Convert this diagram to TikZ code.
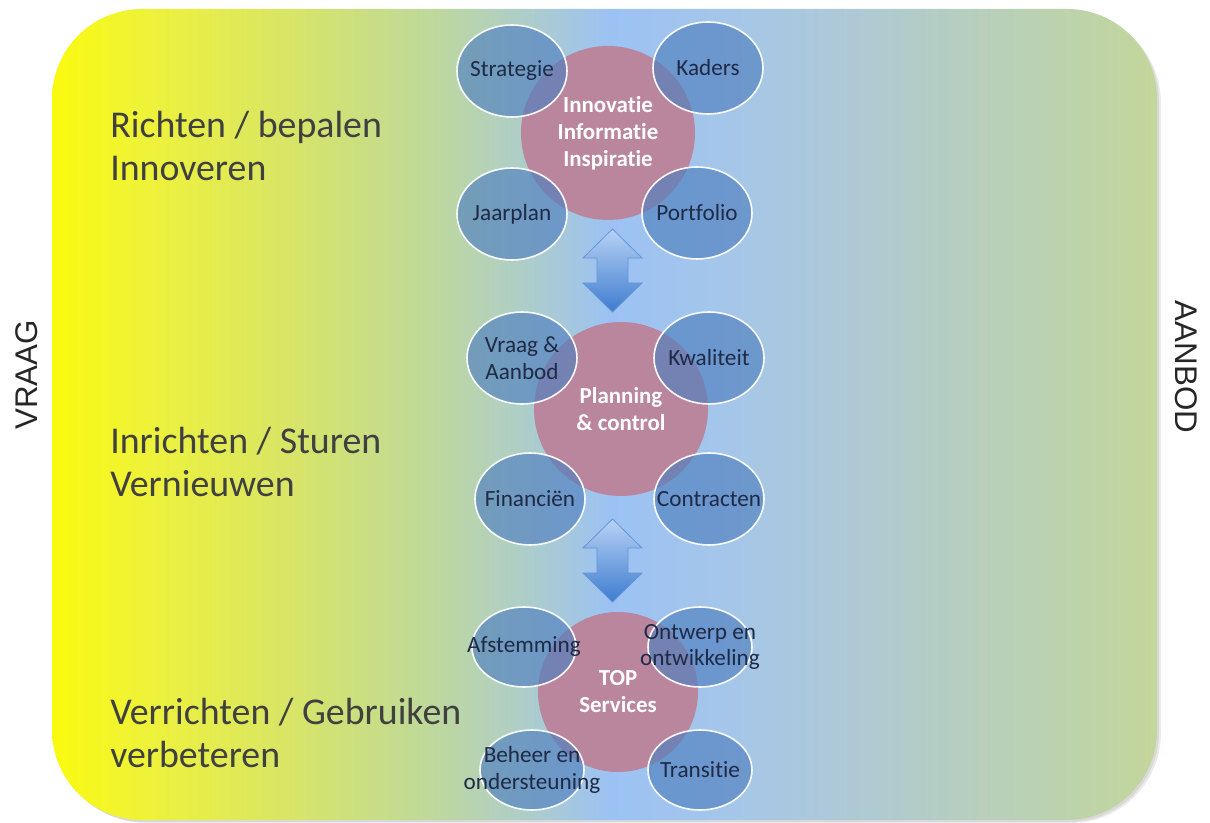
\documentclass[tikz,border=0pt]{standalone}
\usepackage{fontspec}
\setmainfont[Ligatures={NoCommon}]{Carlito}
\newfontfamily\arialf{Liberation Sans}
\usetikzlibrary{shapes.geometric}
\definecolor{c0}{RGB}{250,250,15}
\definecolor{c1}{RGB}{238,242,58}
\definecolor{c2}{RGB}{214,228,106}
\definecolor{c3}{RGB}{192,218,150}
\definecolor{c4}{RGB}{178,208,190}
\definecolor{c5}{RGB}{156,194,244}
\definecolor{c6}{RGB}{164,198,234}
\definecolor{c7}{RGB}{174,201,214}
\definecolor{c8}{RGB}{184,208,184}
\definecolor{c9}{RGB}{195,214,155}
\definecolor{pinkc}{RGB}{186,134,158}
\definecolor{bluec}{RGB}{79,127,191}
\definecolor{navy}{RGB}{30,42,70}
\definecolor{greytxt}{RGB}{64,64,64}
\definecolor{arrtop}{RGB}{184,210,246}
\definecolor{arrbot}{RGB}{62,124,206}
\definecolor{arrline}{RGB}{100,150,215}
\pgfdeclarehorizontalshading{bgshade}{100bp}{color(0bp)=(c0); color(25bp)=(c0); color(29.4bp)=(c1); color(36.2bp)=(c2); color(41.6bp)=(c3); color(45.3bp)=(c4); color(50.3bp)=(c5); color(55.2bp)=(c6); color(61.1bp)=(c7); color(67.9bp)=(c8); color(75bp)=(c9); color(100bp)=(c9)}
\begin{document}
\begin{tikzpicture}[x=0.75pt,y=-0.75pt,
  hub/.style={circle, fill=pinkc, inner sep=0pt},
  sat/.style={ellipse, fill=bluec, fill opacity=0.65, draw=white, draw opacity=0.95, line width=1.2pt, inner sep=0pt, minimum width=82.5pt, minimum height=69pt},
  satsm/.style={sat, minimum width=78pt, minimum height=60pt},
  lbl/.style={font=\fontsize{17.4}{20}\selectfont, text=navy, align=center, inner sep=0pt},
  hublbl/.style={font=\bfseries\fontsize{17.2}{20.25}\selectfont, text=white, align=center, inner sep=0pt},
  side/.style={font=\fontsize{28.4}{32.25}\selectfont, text=greytxt, align=left, inner sep=0pt, anchor=west},
  edge/.style={font=\arialf\fontsize{23.5}{28}\selectfont, text=black!85, inner sep=0pt},
  arrowfill/.style={top color=arrtop, bottom color=arrbot, draw=arrline, line width=0.6pt, line join=miter},
  dblarrow/.pic={\path[arrowfill] (0,0) -- (29.5,29) -- (15.5,29) -- (15.5,54) -- (29.5,54) -- (0,83) -- (-29.5,54) -- (-15.5,54) -- (-15.5,29) -- (-29.5,29) -- cycle;}
]
\useasboundingbox (0,0) rectangle (1210,823);
% shadow
\fill[black, opacity=0.08, rounded corners=67.5pt] (56,13) rectangle (1161,823);
\fill[black, opacity=0.08, rounded corners=67.5pt] (54,11) rectangle (1159,822);
% background
\path[shading=bgshade, rounded corners=67.5pt] (52,9) rectangle (1157,820);

% side labels
\node[edge, rotate=90] (vraag) at (26.5,375) {VRAAG};
\node[edge, rotate=-90] (aanbod) at (1186,367) {AANBOD};
\node[side] (s1) at (110,146) {Richten / bepalen\\Innoveren};
\node[side] (s2) at (110,462) {Inrichten / Sturen\\Vernieuwen};
\node[side] (s3) at (110,733) {Verrichten / Gebruiken\\verbeteren};

% top group
\node[hub, minimum size=130.5pt] (h1) at (608,133) {};
\node[sat] (strat) at (512,71) {};
\node[sat] (kad) at (708,68) {};
\node[sat] (jaar) at (512,214) {};
\node[sat] (port) at (697,213) {};
\node[hublbl] at (h1.center) {Innovatie\\Informatie\\Inspiratie};
\node[lbl] at (strat.center) {Strategie};
\node[lbl] at (kad.center) {Kaders};
\node[lbl] at (jaar.center) {Jaarplan};
\node[lbl] at (port.center) {Portfolio};

% middle group
\node[hub, minimum size=130.5pt] (h2) at (621,409) {};
\node[sat] (vraa) at (522,358) {};
\node[sat] (kwal) at (709,358) {};
\node[sat] (fin) at (530,499) {};
\node[sat] (con) at (709,499) {};
\node[hublbl] at (h2.center) {Planning\\\& control};
\node[lbl] at (vraa.center) {Vraag \&\\Aanbod};
\node[lbl] at (kwal.center) {Kwaliteit};
\node[lbl] at (fin.center) {Financiën};
\node[lbl] at (con.center) {Contracten};

% bottom group
\node[hub, minimum size=120pt] (h3) at (618,692) {};
\node[satsm] (afst) at (524,647) {};
\node[satsm] (ontw) at (700,647) {};
\node[satsm] (beh) at (532,770) {};
\node[satsm] (tran) at (700,770) {};
\node[hublbl] at (h3.center) {TOP\\Services};
\node[lbl] at (afst.center) {Afstemming};
\node[lbl] at (ontw.center) {Ontwerp en\\ontwikkeling};
\node[lbl] at (beh.center) {Beheer en\\ondersteuning};
\node[lbl] at (tran.center) {Transitie};

% arrows between groups
\pic at (612.5,229) {dblarrow};
\pic at (612.5,519) {dblarrow};
\end{tikzpicture}
\end{document}
